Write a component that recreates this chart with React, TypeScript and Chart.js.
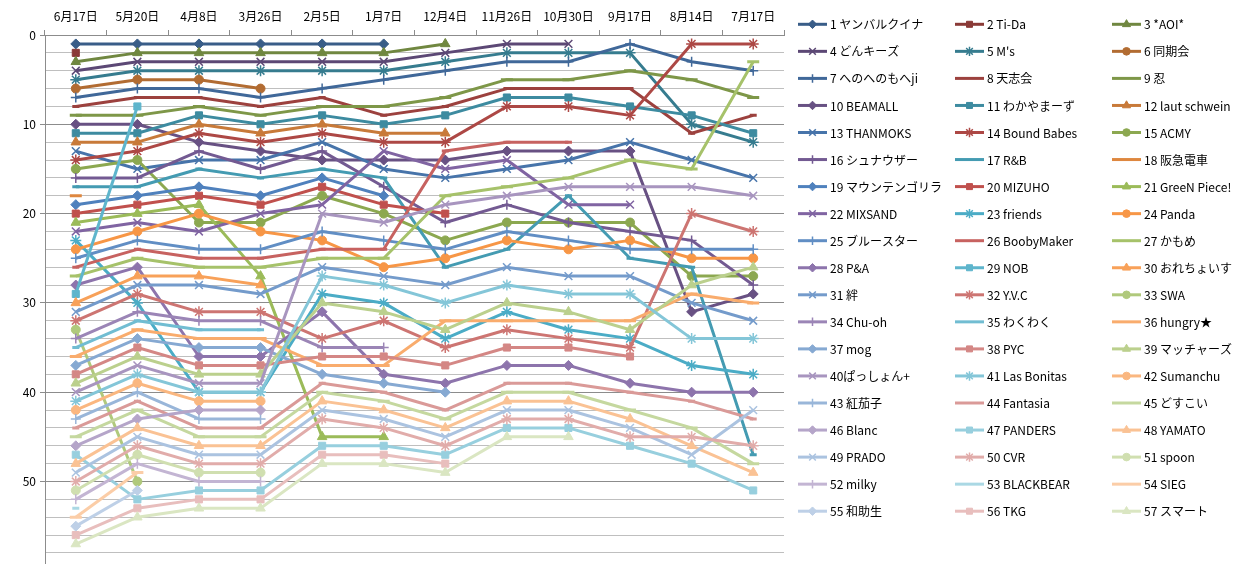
import React, { useEffect, useRef } from 'react';
import { Chart, registerables } from 'chart.js';

Chart.register(...registerables);

const categories = ['6月17日', '5月20日', '4月8日', '3月26日', '2月5日', '1月7日', '12月4日', '11月26日', '10月30日', '9月17日', '8月14日', '7月17日'];

const teamNames = [
  '1 ヤンバルクイナ', '2 Ti-Da', '3 *AOI*', '4 どんキーズ', '5 M\'s', '6 同期会', '7 へのへのもへji', '8 天志会', '9 忍',
  '10 BEAMALL', '11 わかやまーず', '12 laut schwein', '13 THANMOKS', '14 Bound Babes', '15 ACMY', '16 シュナウザー', '17 R&B', '18 阪急電車',
  '19 マウンテンゴリラ', '20 MIZUHO', '21 GreeN Piece!', '22 MIXSAND', '23 friends', '24 Panda', '25 ブルースター', '26 BoobyMaker', '27 かもめ',
  '28 P&A', '29 NOB', '30 おれちょいす', '31 絆', '32 Y.V.C', '33 SWA', '34 Chu-oh', '35 わくわく', '36 hungry★',
  '37 mog', '38 PYC', '39 マッチャーズ', '40ぱっしょん+', '41 Las Bonitas', '42 Sumanchu', '43 紅茄子', '44 Fantasia', '45 どすこい',
  '46 Blanc', '47 PANDERS', '48 YAMATO', '49 PRADO', '50 CVR', '51 spoon', '52 milky', '53 BLACKBEAR', '54 SIEG',
  '55 和助生', '56 TKG', '57 スマート',
];

const _ = null;
const r1 = [1, 1, 1, 1, 1, 1, _, _, _, _, _, _];
const r2 = [2, _, _, _, _, _, _, _, _, _, _, _];
const r3 = [3, 2, 2, 2, 2, 2, 1, _, _, _, _, _];
const r4 = [4, 3, 3, 3, 3, 3, 2, 1, 1, _, _, _];
const r5 = [5, 4, 4, 4, 4, 4, 3, 2, 2, 2, 10, 12];
const r6 = [6, 5, 5, 6, _, _, _, _, _, _, _, _];
const r7 = [7, 6, 6, 7, 6, 5, 4, 3, 3, 1, 3, 4];
const r8 = [8, 7, 7, 8, 7, 9, 8, 6, 6, 6, 11, 9];
const r9 = [9, 9, 8, 9, 8, 8, 7, 5, 5, 4, 5, 7];
const r10 = [10, 10, 12, 13, 14, 14, 14, 13, 13, 13, 31, 29];
const r11 = [11, 11, 9, 10, 9, 10, 9, 7, 7, 8, 9, 11];
const r12 = [12, 12, 10, 11, 10, 11, 11, _, _, _, _, _];
const r13 = [13, 15, 14, 14, 12, 15, 16, 15, 14, 12, 14, 16];
const r14 = [14, 13, 11, 12, 11, 12, 12, 8, 8, 9, 1, 1];
const r15 = [15, 14, 21, 21, 18, 20, 23, 21, 21, 21, 27, 27];
const r16 = [16, 16, 13, 15, 13, 17, 21, 19, 21, 22, 23, 28];
const r17 = [17, 17, 15, 16, 15, 16, 26, 24, 18, 25, 26, 47];
const r18 = [18, _, _, _, _, _, _, _, _, _, _, _];
const r19 = [19, 18, 17, 18, 16, 18, _, _, _, _, _, _];
const r20 = [20, 19, 18, 19, 17, 19, 20, _, _, _, _, _];
const r21 = [21, 20, 19, 27, 45, 45, _, _, _, _, _, _];
const r22 = [22, 21, 22, 20, 19, 13, 15, 14, 19, 19, _, _];
const r23 = [23, 30, 40, 40, 29, 30, 34, 31, 33, 34, 37, 38];
const r24 = [24, 22, 20, 22, 23, 26, 25, 23, 24, 23, 25, 25];
const r25 = [25, 23, 24, 24, 22, 23, 24, 22, 23, 24, 24, 24];
const r26 = [26, 24, 25, 25, 24, 24, 13, 12, 12, _, _, _];
const r27 = [27, 25, 26, 26, 25, 25, 18, 17, 16, 14, 15, 3];
const r28 = [28, 26, 36, 36, 31, 38, 39, 37, 37, 39, 40, 40];
const r29 = [29, 8, _, _, _, _, _, _, _, _, _, _];
const r30 = [30, 27, 27, 28, _, _, _, _, _, _, _, _];
const r31 = [31, 28, 28, 29, 26, 27, 28, 26, 27, 27, 30, 32];
const r32 = [32, 29, 31, 31, 34, 32, 35, 33, 34, 35, 20, 22];
const r33 = [33, 50, _, _, _, _, _, _, _, _, _, _];
const r34 = [34, 31, 32, 32, 35, 35, _, _, _, _, _, _];
const r35 = [35, 32, 33, 33, _, _, _, _, _, _, _, _];
const r36 = [36, 33, 34, 34, 37, 37, 32, 32, 32, 32, 29, 30];
const r37 = [37, 34, 35, 35, 38, 39, 40, _, _, _, _, _];
const r38 = [38, 35, 37, 37, 36, 36, 37, 35, 35, 36, _, _];
const r39 = [39, 36, 38, 38, 30, 31, 33, 30, 31, 33, 28, 26];
const r40 = [40, 37, 39, 39, 20, 21, 19, 18, 17, 17, 17, 18];
const r41 = [41, 38, 40, 40, 27, 28, 30, 28, 29, 29, 34, 34];
const r42 = [42, 39, 41, 41, _, _, _, _, _, _, _, _];
const r43 = [43, 40, 43, 43, _, _, _, _, _, _, _, _];
const r44 = [44, 41, 44, 44, 39, 40, 42, 39, 39, 40, 41, 43];
const r45 = [45, 42, 45, 45, 40, 41, 43, 40, 40, 42, 44, 48];
const r46 = [46, 43, 42, 42, _, _, _, _, _, _, _, _];
const r47 = [47, 52, 51, 51, 46, 46, 47, 44, 44, 46, 48, 51];
const r48 = [48, 44, 46, 46, 41, 42, 44, 41, 41, 43, 46, 49];
const r49 = [49, 45, 47, 47, 42, 43, 45, 42, 42, 44, 47, 42];
const r50 = [50, 46, 48, 48, 43, 44, 46, 43, 43, 45, 45, 46];
const r51 = [51, 47, 49, 49, _, _, _, _, _, _, _, _];
const r52 = [52, 48, 50, 50, _, _, _, _, _, _, _, _];
const r53 = [53, _, _, _, _, _, _, _, _, _, _, _];
const r54 = [54, 49, _, _, _, _, _, _, _, _, _, _];
const r55 = [55, 51, _, _, _, _, _, _, _, _, _, _];
const r56 = [56, 53, 52, 52, 47, 47, 48, _, _, _, _, _];
const r57 = [57, 54, 53, 53, 48, 48, 49, 45, 45, _, _, _];

const seriesValues = [
  r1, r2, r3, r4, r5, r6, r7, r8, r9, r10, r11, r12, r13, r14, r15, r16, r17, r18, r19,
  r20, r21, r22, r23, r24, r25, r26, r27, r28, r29, r30, r31, r32, r33, r34, r35, r36, r37, r38,
  r39, r40, r41, r42, r43, r44, r45, r46, r47, r48, r49, r50, r51, r52, r53, r54, r55, r56, r57,
];

const yMin = 0;
const yMax = 60;
const yMinorStep = 2;
const yMajorStep = 10;
const yLabelLimit = 50;

const FONT = "'Noto Sans CJK JP', 'Noto Sans', sans-serif";
const BASES = [
  [79, 129, 189],
  [192, 80, 77],
  [155, 187, 89],
  [128, 100, 162],
  [75, 172, 198],
  [247, 150, 70],
];
const MARKERS = ['rectRot', 'rect', 'triangle', 'crossRot', 'star', 'circle', 'cross', 'line', 'line'];
const RADII = [5, 5, 5.5, 5.5, 5.5, 4.5, 5, 3.5, 6];

function colorOf(i: number): string {
  const b = BASES[i % 6];
  const k = Math.floor(i / 6);
  let c: number[];
  if (k < 3) {
    const f = [0.72, 0.81, 0.9][k];
    c = b.map((v) => v * f);
  } else {
    const t = (k - 3) * 0.105;
    c = b.map((v) => v + (255 - v) * t);
  }
  return `rgb(${Math.round(c[0])},${Math.round(c[1])},${Math.round(c[2])})`;
}

function isStroked(style: string) {
  return style === 'crossRot' || style === 'star' || style === 'cross' || style === 'line';
}

function drawMarker(ctx: CanvasRenderingContext2D, style: string, x: number, y: number, r: number, color: string) {
  ctx.save();
  ctx.fillStyle = color;
  ctx.strokeStyle = color;
  ctx.beginPath();
  const q = Math.SQRT1_2 * r;
  switch (style) {
    case 'rectRot':
      ctx.lineWidth = 1;
      ctx.moveTo(x - r, y);
      ctx.lineTo(x, y - r);
      ctx.lineTo(x + r, y);
      ctx.lineTo(x, y + r);
      ctx.closePath();
      ctx.fill();
      ctx.stroke();
      break;
    case 'rect':
      ctx.lineWidth = 1;
      ctx.rect(x - q, y - q, 2 * q, 2 * q);
      ctx.fill();
      ctx.stroke();
      break;
    case 'triangle': {
      ctx.lineWidth = 1;
      let a = 0;
      ctx.moveTo(x + Math.sin(a) * r, y - Math.cos(a) * r);
      a += (2 * Math.PI) / 3;
      ctx.lineTo(x + Math.sin(a) * r, y - Math.cos(a) * r);
      a += (2 * Math.PI) / 3;
      ctx.lineTo(x + Math.sin(a) * r, y - Math.cos(a) * r);
      ctx.closePath();
      ctx.fill();
      ctx.stroke();
      break;
    }
    case 'circle':
      ctx.lineWidth = 1;
      ctx.arc(x, y, r, 0, Math.PI * 2);
      ctx.fill();
      ctx.stroke();
      break;
    case 'crossRot':
      ctx.lineWidth = 1.5;
      ctx.moveTo(x - q, y - q);
      ctx.lineTo(x + q, y + q);
      ctx.moveTo(x - q, y + q);
      ctx.lineTo(x + q, y - q);
      ctx.stroke();
      break;
    case 'star':
      ctx.lineWidth = 1.5;
      ctx.moveTo(x - q, y - q);
      ctx.lineTo(x + q, y + q);
      ctx.moveTo(x - q, y + q);
      ctx.lineTo(x + q, y - q);
      ctx.moveTo(x, y - r);
      ctx.lineTo(x, y + r);
      ctx.moveTo(x - r, y);
      ctx.lineTo(x + r, y);
      ctx.stroke();
      break;
    case 'cross':
      ctx.lineWidth = 1.5;
      ctx.moveTo(x, y - r);
      ctx.lineTo(x, y + r);
      ctx.moveTo(x - r, y);
      ctx.lineTo(x + r, y);
      ctx.stroke();
      break;
    default:
      break;
  }
  ctx.restore();
}

const LEGEND_COL_X = [798, 955, 1112];
const LEGEND_TOP = 24.3;
const LEGEND_ROW = 27.05;

const excelLegend = {
  id: 'excelLegend',
  afterDraw(chart: any) {
    const ctx: CanvasRenderingContext2D = chart.ctx;
    ctx.save();
    teamNames.forEach((name, idx) => {
      const row = Math.floor(idx / 3);
      const col = idx % 3;
      const y = LEGEND_TOP + row * LEGEND_ROW;
      const x0 = LEGEND_COL_X[col];
      const color = colorOf(idx);
      ctx.beginPath();
      ctx.strokeStyle = color;
      ctx.lineWidth = 3;
      ctx.moveTo(x0, y);
      ctx.lineTo(x0 + 29, y);
      ctx.stroke();
      const style = MARKERS[idx % 9];
      if (style !== 'line') drawMarker(ctx, style, x0 + 14.5, y, RADII[idx % 9] * 0.85, color);
      ctx.fillStyle = '#000';
      ctx.font = `12px ${FONT}`;
      ctx.textAlign = 'left';
      ctx.textBaseline = 'middle';
      ctx.fillText(name, x0 + 32, y + 0.5);
    });
    ctx.restore();
  },
};

export default function App() {
  const ref = useRef<HTMLCanvasElement | null>(null);

  useEffect(() => {
    if (!ref.current) return;
    Chart.defaults.font.family = FONT;
    const datasets = seriesValues.map((vals, i) => {
      const c = colorOf(i);
      const style = MARKERS[i % 9];
      return {
        label: teamNames[i],
        data: vals,
        borderColor: c,
        backgroundColor: c,
        borderWidth: 3,
        borderJoinStyle: 'round' as const,
        pointStyle: style,
        pointRadius: RADII[i % 9],
        pointBackgroundColor: c,
        pointBorderColor: c,
        pointBorderWidth: style === 'line' ? 3 : isStroked(style) ? 1.5 : 1,
        tension: 0,
        spanGaps: false,
        order: seriesValues.length - i,
      };
    });

    const chart = new Chart(ref.current, {
      type: 'line',
      data: { labels: categories, datasets },
      options: {
        animation: false,
        responsive: false,
        events: [],
        layout: { padding: { left: 8, right: 459, top: 0, bottom: 0 } },
        plugins: {
          legend: { display: false },
          tooltip: { enabled: false },
        },
        scales: {
          x: {
            type: 'category',
            position: 'top',
            offset: true,
            grid: {
              display: true,
              drawOnChartArea: false,
              drawTicks: true,
              tickLength: 5,
              color: '#8c8c8c',
              offset: true,
            },
            border: { color: '#8c8c8c', width: 1 },
            ticks: {
              color: '#000',
              font: { size: 12, family: FONT },
              padding: 6,
              maxRotation: 0,
              autoSkip: false,
            },
            afterFit: (s: any) => {
              s.height = 35;
            },
          },
          y: {
            reverse: true,
            min: yMin,
            max: yMax,
            ticks: {
              stepSize: yMinorStep,
              autoSkip: false,
              color: '#000',
              font: { size: 12, family: FONT },
              padding: 4,
              callback: (v: any) => (Number(v) % yMajorStep === 0 && Number(v) <= yLabelLimit ? String(v) : ''),
            },
            grid: {
              color: (c: any) => (c.tick && c.tick.value % yMajorStep === 0 ? '#8c8c8c' : '#bfbfbf'),
              tickColor: (c: any) => (c.tick && c.tick.value % yMajorStep === 0 ? '#8c8c8c' : 'rgba(0,0,0,0)'),
              tickLength: 5,
            },
            border: { color: '#8c8c8c', width: 1 },
            afterFit: (s: any) => {
              s.width = 37;
            },
          },
        },
      },
      plugins: [excelLegend],
    } as any);

    return () => {
      chart.destroy();
    };
  }, []);

  return (
    <div
      style={{
        position: 'fixed',
        left: 0,
        top: 0,
        width: 1243,
        height: 564,
        overflow: 'hidden',
        background: '#fff',
      }}
    >
      <canvas ref={ref} width={1243} height={582} style={{ display: 'block', width: 1243, height: 582 }} />
    </div>
  );
}
